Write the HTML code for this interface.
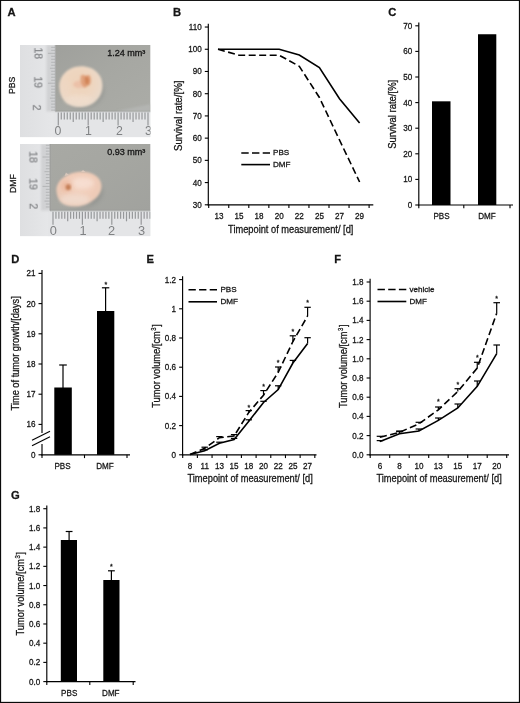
<!DOCTYPE html>
<html lang="en"><head><meta charset="utf-8"><title>Figure</title>
<style>
html,body{margin:0;padding:0;background:#fff;}
body{width:520px;height:703px;overflow:hidden;}
svg{display:block;}
text{font-family:"Liberation Sans", sans-serif;fill:#151515;stroke:#151515;stroke-width:0.28px;}
</style></head><body>
<svg width="520" height="703" viewBox="0 0 520 703">
<rect x="0" y="0" width="520" height="703" fill="#fff"/>

<defs>
<filter id="b1" x="-20%" y="-20%" width="140%" height="140%"><feGaussianBlur stdDeviation="1.2"/></filter>
<filter id="b2" x="-30%" y="-30%" width="160%" height="160%"><feGaussianBlur stdDeviation="2.2"/></filter>
<filter id="b05" x="-10%" y="-10%" width="120%" height="120%"><feGaussianBlur stdDeviation="0.5"/></filter>
<linearGradient id="gbg1" x1="0" y1="0" x2="1" y2="1">
<stop offset="0" stop-color="#9fa09c"/><stop offset="0.45" stop-color="#a6a7a2"/><stop offset="1" stop-color="#abaca7"/></linearGradient>
<linearGradient id="gbg2" x1="0" y1="0" x2="1" y2="1">
<stop offset="0" stop-color="#a8a9a4"/><stop offset="0.5" stop-color="#a5a6a1"/><stop offset="1" stop-color="#a1a29e"/></linearGradient>
<linearGradient id="rul" x1="0" y1="0" x2="1" y2="0">
<stop offset="0" stop-color="#dedfe1"/><stop offset="1" stop-color="#e6e7e9"/></linearGradient>
<radialGradient id="t1" cx="0.45" cy="0.4" r="0.6">
<stop offset="0" stop-color="#efd2ba"/><stop offset="0.55" stop-color="#eed6c0"/><stop offset="0.85" stop-color="#ebd9c8"/><stop offset="1" stop-color="#e6d8ca"/></radialGradient>
<radialGradient id="t2" cx="0.5" cy="0.4" r="0.6">
<stop offset="0" stop-color="#f3d4c3"/><stop offset="0.6" stop-color="#f0ccb8"/><stop offset="1" stop-color="#e7c8b5"/></radialGradient>
<clipPath id="c1"><rect x="20" y="45" width="130.5" height="92.3"/></clipPath>
<clipPath id="c2"><rect x="20" y="144" width="130.5" height="92.3"/></clipPath>
</defs>
<rect x="0" y="0" width="1.12" height="703" fill="#0a0a0a"/><rect x="0" y="0" width="520" height="0.95" fill="#0a0a0a"/><rect x="518.88" y="0" width="1.12" height="703" fill="#0a0a0a"/><rect x="0" y="701.85" width="520" height="1.15" fill="#0a0a0a"/>
<text x="7.5" y="15.6" font-size="11.2" text-anchor="start" font-weight="bold" fill="#000">A</text>
<text x="173" y="15.6" font-size="11.2" text-anchor="start" font-weight="bold" fill="#000">B</text>
<text x="388.2" y="15.7" font-size="11.2" text-anchor="start" font-weight="bold" fill="#000">C</text>
<text x="11.3" y="262.9" font-size="11.2" text-anchor="start" font-weight="bold" fill="#000">D</text>
<text x="146.5" y="262.9" font-size="11.2" text-anchor="start" font-weight="bold" fill="#000">E</text>
<text x="334.2" y="262.9" font-size="11.2" text-anchor="start" font-weight="bold" fill="#000">F</text>
<text x="11" y="498.6" font-size="11.2" text-anchor="start" font-weight="bold" fill="#000">G</text>
<g clip-path="url(#c1)">
<rect x="20" y="45" width="130.5" height="92.3" fill="#e2e3e5"/>
<rect x="55.4" y="45" width="95.1" height="66.4" fill="url(#gbg1)"/>
<rect x="20" y="45" width="35.4" height="92.3" fill="url(#rul)"/>
<rect x="53.4" y="111.4" width="97.1" height="25.900000000000006" fill="#e4e5e7"/>
<rect x="54.6" y="45" width="1.6" height="66.4" fill="#8f918e" opacity="0.55" filter="url(#b05)"/>
<rect x="55.4" y="110.60000000000001" width="95.1" height="1.6" fill="#8f918e" opacity="0.5" filter="url(#b05)"/>
<rect x="46.4" y="45" width="9" height="66.4" fill="#b9babc" opacity="0.45" filter="url(#b1)"/>
<g stroke="#9a9c9d" stroke-width="0.9" opacity="0.6" filter="url(#b05)"><line x1="51.2" y1="41.34" x2="55.1" y2="41.34"/><line x1="51.2" y1="44.33" x2="55.1" y2="44.33"/><line x1="51.2" y1="47.32" x2="55.1" y2="47.32"/><line x1="51.2" y1="50.31" x2="55.1" y2="50.31"/><line x1="47.9" y1="53.3" x2="55.1" y2="53.3"/><line x1="51.2" y1="56.29" x2="55.1" y2="56.29"/><line x1="51.2" y1="59.28" x2="55.1" y2="59.28"/><line x1="51.2" y1="62.27" x2="55.1" y2="62.27"/><line x1="51.2" y1="65.26" x2="55.1" y2="65.26"/><line x1="49.9" y1="68.25" x2="55.1" y2="68.25"/><line x1="51.2" y1="71.24" x2="55.1" y2="71.24"/><line x1="51.2" y1="74.23" x2="55.1" y2="74.23"/><line x1="51.2" y1="77.22" x2="55.1" y2="77.22"/><line x1="51.2" y1="80.21" x2="55.1" y2="80.21"/><line x1="47.9" y1="83.2" x2="55.1" y2="83.2"/><line x1="51.2" y1="86.19" x2="55.1" y2="86.19"/><line x1="51.2" y1="89.18" x2="55.1" y2="89.18"/><line x1="51.2" y1="92.17" x2="55.1" y2="92.17"/><line x1="51.2" y1="95.16" x2="55.1" y2="95.16"/><line x1="49.9" y1="98.15" x2="55.1" y2="98.15"/><line x1="51.2" y1="101.14" x2="55.1" y2="101.14"/><line x1="51.2" y1="104.13" x2="55.1" y2="104.13"/><line x1="51.2" y1="107.12" x2="55.1" y2="107.12"/><line x1="51.2" y1="110.11" x2="55.1" y2="110.11"/></g>
<g stroke="#76787a" stroke-width="1.2" opacity="0.7" filter="url(#b05)"><line x1="58.3" y1="112.60000000000001" x2="58.3" y2="125.6"/><line x1="61.29" y1="112.60000000000001" x2="61.29" y2="119.6"/><line x1="64.28" y1="112.60000000000001" x2="64.28" y2="119.6"/><line x1="67.27" y1="112.60000000000001" x2="67.27" y2="119.6"/><line x1="70.26" y1="112.60000000000001" x2="70.26" y2="119.6"/><line x1="73.25" y1="112.60000000000001" x2="73.25" y2="122.1"/><line x1="76.24" y1="112.60000000000001" x2="76.24" y2="119.6"/><line x1="79.23" y1="112.60000000000001" x2="79.23" y2="119.6"/><line x1="82.22" y1="112.60000000000001" x2="82.22" y2="119.6"/><line x1="85.21" y1="112.60000000000001" x2="85.21" y2="119.6"/><line x1="88.2" y1="112.60000000000001" x2="88.2" y2="125.6"/><line x1="91.19" y1="112.60000000000001" x2="91.19" y2="119.6"/><line x1="94.18" y1="112.60000000000001" x2="94.18" y2="119.6"/><line x1="97.17" y1="112.60000000000001" x2="97.17" y2="119.6"/><line x1="100.16" y1="112.60000000000001" x2="100.16" y2="119.6"/><line x1="103.15" y1="112.60000000000001" x2="103.15" y2="122.1"/><line x1="106.14" y1="112.60000000000001" x2="106.14" y2="119.6"/><line x1="109.13" y1="112.60000000000001" x2="109.13" y2="119.6"/><line x1="112.12" y1="112.60000000000001" x2="112.12" y2="119.6"/><line x1="115.11" y1="112.60000000000001" x2="115.11" y2="119.6"/><line x1="118.1" y1="112.60000000000001" x2="118.1" y2="125.6"/><line x1="121.09" y1="112.60000000000001" x2="121.09" y2="119.6"/><line x1="124.08" y1="112.60000000000001" x2="124.08" y2="119.6"/><line x1="127.07" y1="112.60000000000001" x2="127.07" y2="119.6"/><line x1="130.06" y1="112.60000000000001" x2="130.06" y2="119.6"/><line x1="133.05" y1="112.60000000000001" x2="133.05" y2="122.1"/><line x1="136.04" y1="112.60000000000001" x2="136.04" y2="119.6"/><line x1="139.03" y1="112.60000000000001" x2="139.03" y2="119.6"/><line x1="142.02" y1="112.60000000000001" x2="142.02" y2="119.6"/><line x1="145.01" y1="112.60000000000001" x2="145.01" y2="119.6"/><line x1="148.0" y1="112.60000000000001" x2="148.0" y2="125.6"/></g>
<text x="34.3" y="53.3" font-size="10.5" text-anchor="middle" transform="rotate(90 34.3 53.3)" style="fill:#85878a;stroke:#85878a;stroke-width:0.25px" filter="url(#b05)">18</text>
<text x="34.1" y="82.3" font-size="10.5" text-anchor="middle" transform="rotate(90 34.1 82.3)" style="fill:#85878a;stroke:#85878a;stroke-width:0.25px" filter="url(#b05)">19</text>
<text x="33.6" y="107.5" font-size="10.5" text-anchor="middle" transform="rotate(90 33.6 107.5)" style="fill:#85878a;stroke:#85878a;stroke-width:0.25px" filter="url(#b05)">2</text>
<text x="58" y="135.2" font-size="12.3" text-anchor="middle" style="fill:#808284;stroke:none" filter="url(#b05)">0</text>
<text x="88.3" y="135.2" font-size="12.3" text-anchor="middle" style="fill:#808284;stroke:none" filter="url(#b05)">1</text>
<text x="119.3" y="135.2" font-size="12.3" text-anchor="middle" style="fill:#808284;stroke:none" filter="url(#b05)">2</text>
<text x="148.3" y="135.2" font-size="12.3" text-anchor="middle" style="fill:#808284;stroke:none" filter="url(#b05)">3</text>

<ellipse cx="82" cy="90" rx="22" ry="18.5" fill="#80827f" opacity="0.4" filter="url(#b2)"/>
<path d="M59.5 88 C58.5 76 68 66.5 81 66.3 C94 66.2 102.8 75 102.6 86 C102.5 97 94 106 82 107 C76 107.6 68 105.5 64 100.5 C61 97 59.8 92 59.5 88Z" fill="url(#t1)" filter="url(#b1)"/>
<ellipse cx="79" cy="100" rx="14" ry="5" fill="#f1dfcf" opacity="0.7" filter="url(#b2)"/>
<ellipse cx="66" cy="88" rx="4.5" ry="9" fill="#eed7c4" opacity="0.6" filter="url(#b2)"/>
<ellipse cx="79" cy="84.5" rx="6" ry="3.5" fill="#eab39a" opacity="0.55" filter="url(#b1)"/>
<path d="M81 75.5 C83 74 85 75.5 86 76 C88 74 91 75.5 90.8 79 C91.5 82.5 90 86 87.5 85.8 C86 88.5 82.5 88 82.5 85 C80.5 83.5 80 79 81 75.5Z" fill="#db9066" opacity="0.75" filter="url(#b1)"/><path d="M85 77 C87 76 89 77.5 89 80 C89.5 83 88 85 86.5 84.5 C85 84 84.5 80 85 77Z" fill="#c8703f" opacity="0.6" filter="url(#b1)"/>

<path d="M114 111.4 L150.5 104 L150.5 111.4Z" fill="#b9bbba" opacity="0.6" filter="url(#b1)"/>

</g>
<g clip-path="url(#c2)">
<rect x="20" y="144" width="130.5" height="92.3" fill="#e2e3e5"/>
<rect x="50" y="144" width="100.5" height="66.6" fill="url(#gbg2)"/>
<rect x="20" y="144" width="30" height="92.3" fill="url(#rul)"/>
<rect x="48" y="210.6" width="102.5" height="25.700000000000017" fill="#e4e5e7"/>
<rect x="49.2" y="144" width="1.6" height="66.6" fill="#8f918e" opacity="0.55" filter="url(#b05)"/>
<rect x="50" y="209.79999999999998" width="100.5" height="1.6" fill="#8f918e" opacity="0.5" filter="url(#b05)"/>
<rect x="41" y="144" width="9" height="66.6" fill="#b9babc" opacity="0.45" filter="url(#b1)"/>
<g stroke="#9a9c9d" stroke-width="0.9" opacity="0.6" filter="url(#b05)"><line x1="45.8" y1="145.24" x2="49.7" y2="145.24"/><line x1="45.8" y1="148.18" x2="49.7" y2="148.18"/><line x1="45.8" y1="151.12" x2="49.7" y2="151.12"/><line x1="45.8" y1="154.06" x2="49.7" y2="154.06"/><line x1="42.5" y1="157.0" x2="49.7" y2="157.0"/><line x1="45.8" y1="159.94" x2="49.7" y2="159.94"/><line x1="45.8" y1="162.88" x2="49.7" y2="162.88"/><line x1="45.8" y1="165.82" x2="49.7" y2="165.82"/><line x1="45.8" y1="168.76" x2="49.7" y2="168.76"/><line x1="44.5" y1="171.7" x2="49.7" y2="171.7"/><line x1="45.8" y1="174.64" x2="49.7" y2="174.64"/><line x1="45.8" y1="177.58" x2="49.7" y2="177.58"/><line x1="45.8" y1="180.52" x2="49.7" y2="180.52"/><line x1="45.8" y1="183.46" x2="49.7" y2="183.46"/><line x1="42.5" y1="186.4" x2="49.7" y2="186.4"/><line x1="45.8" y1="189.34" x2="49.7" y2="189.34"/><line x1="45.8" y1="192.28" x2="49.7" y2="192.28"/><line x1="45.8" y1="195.22" x2="49.7" y2="195.22"/><line x1="45.8" y1="198.16" x2="49.7" y2="198.16"/><line x1="44.5" y1="201.1" x2="49.7" y2="201.1"/><line x1="45.8" y1="204.04" x2="49.7" y2="204.04"/><line x1="45.8" y1="206.98" x2="49.7" y2="206.98"/></g>
<g stroke="#76787a" stroke-width="1.2" opacity="0.7" filter="url(#b05)"><line x1="53" y1="211.79999999999998" x2="53" y2="224.8"/><line x1="55.94" y1="211.79999999999998" x2="55.94" y2="218.8"/><line x1="58.88" y1="211.79999999999998" x2="58.88" y2="218.8"/><line x1="61.82" y1="211.79999999999998" x2="61.82" y2="218.8"/><line x1="64.76" y1="211.79999999999998" x2="64.76" y2="218.8"/><line x1="67.7" y1="211.79999999999998" x2="67.7" y2="221.3"/><line x1="70.64" y1="211.79999999999998" x2="70.64" y2="218.8"/><line x1="73.58" y1="211.79999999999998" x2="73.58" y2="218.8"/><line x1="76.52" y1="211.79999999999998" x2="76.52" y2="218.8"/><line x1="79.46" y1="211.79999999999998" x2="79.46" y2="218.8"/><line x1="82.4" y1="211.79999999999998" x2="82.4" y2="224.8"/><line x1="85.34" y1="211.79999999999998" x2="85.34" y2="218.8"/><line x1="88.28" y1="211.79999999999998" x2="88.28" y2="218.8"/><line x1="91.22" y1="211.79999999999998" x2="91.22" y2="218.8"/><line x1="94.16" y1="211.79999999999998" x2="94.16" y2="218.8"/><line x1="97.1" y1="211.79999999999998" x2="97.1" y2="221.3"/><line x1="100.04" y1="211.79999999999998" x2="100.04" y2="218.8"/><line x1="102.98" y1="211.79999999999998" x2="102.98" y2="218.8"/><line x1="105.92" y1="211.79999999999998" x2="105.92" y2="218.8"/><line x1="108.86" y1="211.79999999999998" x2="108.86" y2="218.8"/><line x1="111.8" y1="211.79999999999998" x2="111.8" y2="224.8"/><line x1="114.74" y1="211.79999999999998" x2="114.74" y2="218.8"/><line x1="117.68" y1="211.79999999999998" x2="117.68" y2="218.8"/><line x1="120.62" y1="211.79999999999998" x2="120.62" y2="218.8"/><line x1="123.56" y1="211.79999999999998" x2="123.56" y2="218.8"/><line x1="126.5" y1="211.79999999999998" x2="126.5" y2="221.3"/><line x1="129.44" y1="211.79999999999998" x2="129.44" y2="218.8"/><line x1="132.38" y1="211.79999999999998" x2="132.38" y2="218.8"/><line x1="135.32" y1="211.79999999999998" x2="135.32" y2="218.8"/><line x1="138.26" y1="211.79999999999998" x2="138.26" y2="218.8"/><line x1="141.2" y1="211.79999999999998" x2="141.2" y2="224.8"/><line x1="144.14" y1="211.79999999999998" x2="144.14" y2="218.8"/><line x1="147.08" y1="211.79999999999998" x2="147.08" y2="218.8"/><line x1="150.02" y1="211.79999999999998" x2="150.02" y2="218.8"/></g>
<text x="29.5" y="157" font-size="10.5" text-anchor="middle" transform="rotate(90 29.5 157)" style="fill:#85878a;stroke:#85878a;stroke-width:0.25px" filter="url(#b05)">18</text>
<text x="29.5" y="184" font-size="10.5" text-anchor="middle" transform="rotate(90 29.5 184)" style="fill:#85878a;stroke:#85878a;stroke-width:0.25px" filter="url(#b05)">19</text>
<text x="29.5" y="206.3" font-size="10.5" text-anchor="middle" transform="rotate(90 29.5 206.3)" style="fill:#85878a;stroke:#85878a;stroke-width:0.25px" filter="url(#b05)">2</text>
<text x="53.3" y="234.5" font-size="12.8" text-anchor="middle" style="fill:#808284;stroke:none" filter="url(#b05)">0</text>
<text x="83" y="234.5" font-size="12.8" text-anchor="middle" style="fill:#808284;stroke:none" filter="url(#b05)">1</text>
<text x="111.5" y="234.5" font-size="12.8" text-anchor="middle" style="fill:#808284;stroke:none" filter="url(#b05)">2</text>
<text x="141.5" y="234.5" font-size="12.8" text-anchor="middle" style="fill:#808284;stroke:none" filter="url(#b05)">3</text>

<ellipse cx="80" cy="192" rx="23" ry="16" fill="#80827f" opacity="0.4" filter="url(#b2)"/>
<path d="M56.3 191 C56 181 66 173 80 171.8 C92 171 101.5 177 101.6 186 C101.7 194 95 201 85 204.5 C76 207.6 66 207 60.5 201.5 C57.8 198.8 56.5 195 56.3 191Z" fill="url(#t2)" filter="url(#b1)"/>
<ellipse cx="83" cy="183" rx="11" ry="5.5" fill="#f8e1d5" opacity="0.8" filter="url(#b2)"/>
<ellipse cx="75" cy="199.5" rx="15" ry="5.5" fill="#f1dccf" opacity="0.85" filter="url(#b2)"/>
<ellipse cx="66.5" cy="186" rx="5.5" ry="5.5" fill="#e8a888" opacity="0.5" filter="url(#b2)"/>
<ellipse cx="68.3" cy="187.2" rx="2.6" ry="2.9" fill="#c07850" opacity="0.9" filter="url(#b1)"/>
<path d="M64.5 176 L66 172.5 L69 175Z M81 172 L83 170 L85.5 172Z" fill="#e8d2c4" opacity="0.7" filter="url(#b05)"/>

</g>
<text x="15.2" y="85.3" font-size="8.7" text-anchor="middle" transform="rotate(-90 15.2 85.3)">PBS</text>
<text x="15.5" y="183.5" font-size="8.7" text-anchor="middle" transform="rotate(-90 15.5 183.5)">DMF</text>

<text x="107.2" y="56" font-size="8.5" text-anchor="start" textLength="38.2" lengthAdjust="spacingAndGlyphs">1.24 mm³</text>
<text x="107.2" y="155.3" font-size="8.5" text-anchor="start" textLength="38.2" lengthAdjust="spacingAndGlyphs">0.93 mm³</text>
<line x1="208.3" y1="23.74" x2="208.3" y2="205.4" stroke="#000" stroke-width="1.15"/>
<line x1="204.8" y1="204.8" x2="208.3" y2="204.8" stroke="#000" stroke-width="1.1"/>
<text x="0" y="0" font-size="9.0" text-anchor="end" transform="translate(201.70000000000002 207.75) scale(0.9 1)">30</text>
<line x1="204.8" y1="182.58" x2="208.3" y2="182.58" stroke="#000" stroke-width="1.1"/>
<text x="0" y="0" font-size="9.0" text-anchor="end" transform="translate(201.70000000000002 185.53) scale(0.9 1)">40</text>
<line x1="204.8" y1="160.36" x2="208.3" y2="160.36" stroke="#000" stroke-width="1.1"/>
<text x="0" y="0" font-size="9.0" text-anchor="end" transform="translate(201.70000000000002 163.31) scale(0.9 1)">50</text>
<line x1="204.8" y1="138.14" x2="208.3" y2="138.14" stroke="#000" stroke-width="1.1"/>
<text x="0" y="0" font-size="9.0" text-anchor="end" transform="translate(201.70000000000002 141.09) scale(0.9 1)">60</text>
<line x1="204.8" y1="115.92" x2="208.3" y2="115.92" stroke="#000" stroke-width="1.1"/>
<text x="0" y="0" font-size="9.0" text-anchor="end" transform="translate(201.70000000000002 118.87) scale(0.9 1)">70</text>
<line x1="204.8" y1="93.7" x2="208.3" y2="93.7" stroke="#000" stroke-width="1.1"/>
<text x="0" y="0" font-size="9.0" text-anchor="end" transform="translate(201.70000000000002 96.65) scale(0.9 1)">80</text>
<line x1="204.8" y1="71.48" x2="208.3" y2="71.48" stroke="#000" stroke-width="1.1"/>
<text x="0" y="0" font-size="9.0" text-anchor="end" transform="translate(201.70000000000002 74.43) scale(0.9 1)">90</text>
<line x1="204.8" y1="49.26" x2="208.3" y2="49.26" stroke="#000" stroke-width="1.1"/>
<text x="0" y="0" font-size="9.0" text-anchor="end" transform="translate(201.70000000000002 52.21) scale(0.9 1)">100</text>
<line x1="204.8" y1="27.04" x2="208.3" y2="27.04" stroke="#000" stroke-width="1.1"/>
<text x="0" y="0" font-size="9.0" text-anchor="end" transform="translate(201.70000000000002 29.99) scale(0.9 1)">110</text>
<line x1="207.70000000000002" y1="204.8" x2="373.3" y2="204.8" stroke="#000" stroke-width="1.15"/>
<line x1="208.7" y1="204.8" x2="208.7" y2="208.10000000000002" stroke="#000" stroke-width="1.1"/>
<line x1="228.75" y1="204.8" x2="228.75" y2="208.10000000000002" stroke="#000" stroke-width="1.1"/>
<line x1="248.8" y1="204.8" x2="248.8" y2="208.10000000000002" stroke="#000" stroke-width="1.1"/>
<line x1="268.85" y1="204.8" x2="268.85" y2="208.10000000000002" stroke="#000" stroke-width="1.1"/>
<line x1="288.9" y1="204.8" x2="288.9" y2="208.10000000000002" stroke="#000" stroke-width="1.1"/>
<line x1="308.95" y1="204.8" x2="308.95" y2="208.10000000000002" stroke="#000" stroke-width="1.1"/>
<line x1="329.0" y1="204.8" x2="329.0" y2="208.10000000000002" stroke="#000" stroke-width="1.1"/>
<line x1="349.05" y1="204.8" x2="349.05" y2="208.10000000000002" stroke="#000" stroke-width="1.1"/>
<line x1="369.1" y1="204.8" x2="369.1" y2="208.10000000000002" stroke="#000" stroke-width="1.1"/>
<text x="0" y="0" font-size="9.0" text-anchor="middle" transform="translate(218.9 219.3) scale(0.9 1)">13</text>
<text x="0" y="0" font-size="9.0" text-anchor="middle" transform="translate(239.0 219.3) scale(0.9 1)">15</text>
<text x="0" y="0" font-size="9.0" text-anchor="middle" transform="translate(259.1 219.3) scale(0.9 1)">18</text>
<text x="0" y="0" font-size="9.0" text-anchor="middle" transform="translate(279.2 219.3) scale(0.9 1)">20</text>
<text x="0" y="0" font-size="9.0" text-anchor="middle" transform="translate(299.3 219.3) scale(0.9 1)">22</text>
<text x="0" y="0" font-size="9.0" text-anchor="middle" transform="translate(319.4 219.3) scale(0.9 1)">25</text>
<text x="0" y="0" font-size="9.0" text-anchor="middle" transform="translate(339.5 219.3) scale(0.9 1)">27</text>
<text x="0" y="0" font-size="9.0" text-anchor="middle" transform="translate(359.6 219.3) scale(0.9 1)">29</text>
<text x="181.9" y="115.8" font-size="10.2" text-anchor="middle" transform="rotate(-90 181.9 115.8)" textLength="70.5" lengthAdjust="spacingAndGlyphs">Survival rate/[%]</text>
<text x="228.1" y="233" font-size="10.4" text-anchor="start" textLength="125.3" lengthAdjust="spacingAndGlyphs">Timepoint of measurement/ [d]</text>
<polyline points="218.0,49.3 279.2,49.3 299.3,55 319.4,67.5 339.5,98.8 359.6,123" fill="none" stroke="#000" stroke-width="1.6" stroke-linejoin="miter"/>
<polyline points="218.0,49.3 239.0,55.2 279.2,55.2 299.3,66.3 319.4,97.5 339.5,140 359.6,182" fill="none" stroke="#000" stroke-width="1.6" stroke-linejoin="miter" stroke-dasharray="7 3.5"/>
<polyline points="241.3,153 270,153" fill="none" stroke="#000" stroke-width="1.6" stroke-linejoin="miter" stroke-dasharray="7.4 3.3"/>
<polyline points="241.3,164.6 270,164.6" fill="none" stroke="#000" stroke-width="1.6" stroke-linejoin="miter"/>
<text x="273" y="155.2" font-size="8.1" text-anchor="start">PBS</text>
<text x="273" y="167.1" font-size="8.1" text-anchor="start">DMF</text>
<line x1="418.8" y1="22.5" x2="418.8" y2="205.6" stroke="#000" stroke-width="1.15"/>
<line x1="415.3" y1="205.0" x2="418.8" y2="205.0" stroke="#000" stroke-width="1.1"/>
<text x="0" y="0" font-size="9.0" text-anchor="end" transform="translate(412.2 207.95) scale(0.9 1)">0</text>
<line x1="415.3" y1="179.4" x2="418.8" y2="179.4" stroke="#000" stroke-width="1.1"/>
<text x="0" y="0" font-size="9.0" text-anchor="end" transform="translate(412.2 182.35) scale(0.9 1)">10</text>
<line x1="415.3" y1="153.8" x2="418.8" y2="153.8" stroke="#000" stroke-width="1.1"/>
<text x="0" y="0" font-size="9.0" text-anchor="end" transform="translate(412.2 156.75) scale(0.9 1)">20</text>
<line x1="415.3" y1="128.2" x2="418.8" y2="128.2" stroke="#000" stroke-width="1.1"/>
<text x="0" y="0" font-size="9.0" text-anchor="end" transform="translate(412.2 131.15) scale(0.9 1)">30</text>
<line x1="415.3" y1="102.6" x2="418.8" y2="102.6" stroke="#000" stroke-width="1.1"/>
<text x="0" y="0" font-size="9.0" text-anchor="end" transform="translate(412.2 105.55) scale(0.9 1)">40</text>
<line x1="415.3" y1="77.0" x2="418.8" y2="77.0" stroke="#000" stroke-width="1.1"/>
<text x="0" y="0" font-size="9.0" text-anchor="end" transform="translate(412.2 79.95) scale(0.9 1)">50</text>
<line x1="415.3" y1="51.4" x2="418.8" y2="51.4" stroke="#000" stroke-width="1.1"/>
<text x="0" y="0" font-size="9.0" text-anchor="end" transform="translate(412.2 54.35) scale(0.9 1)">60</text>
<line x1="415.3" y1="25.8" x2="418.8" y2="25.8" stroke="#000" stroke-width="1.1"/>
<text x="0" y="0" font-size="9.0" text-anchor="end" transform="translate(412.2 28.75) scale(0.9 1)">70</text>
<line x1="418.2" y1="205" x2="513" y2="205" stroke="#000" stroke-width="1.15"/>
<line x1="418.8" y1="205" x2="418.8" y2="208.3" stroke="#000" stroke-width="1.1"/>
<line x1="463.8" y1="205" x2="463.8" y2="208.3" stroke="#000" stroke-width="1.1"/>
<line x1="510" y1="205" x2="510" y2="208.3" stroke="#000" stroke-width="1.1"/>
<text x="0" y="0" font-size="9.0" text-anchor="middle" transform="translate(441.5 219.3) scale(0.9 1)">PBS</text>
<text x="0" y="0" font-size="9.0" text-anchor="middle" transform="translate(487 219.3) scale(0.9 1)">DMF</text>
<rect x="432" y="101.32" width="18.5" height="103.68" fill="#000"/>
<rect x="478" y="34.25" width="18.3" height="170.75" fill="#000"/>
<text x="396.4" y="114.3" font-size="10.2" text-anchor="middle" transform="rotate(-90 396.4 114.3)" textLength="69" lengthAdjust="spacingAndGlyphs">Survival rate/[%]</text>
<line x1="42" y1="270.09999999999997" x2="42" y2="455.40000000000003" stroke="#000" stroke-width="1.15"/>
<line x1="38.5" y1="424.4" x2="42" y2="424.4" stroke="#000" stroke-width="1.1"/>
<text x="0" y="0" font-size="9.0" text-anchor="end" transform="translate(35.4 427.35) scale(0.9 1)">16</text>
<line x1="38.5" y1="394.2" x2="42" y2="394.2" stroke="#000" stroke-width="1.1"/>
<text x="0" y="0" font-size="9.0" text-anchor="end" transform="translate(35.4 397.15) scale(0.9 1)">17</text>
<line x1="38.5" y1="364.0" x2="42" y2="364.0" stroke="#000" stroke-width="1.1"/>
<text x="0" y="0" font-size="9.0" text-anchor="end" transform="translate(35.4 366.95) scale(0.9 1)">18</text>
<line x1="38.5" y1="333.8" x2="42" y2="333.8" stroke="#000" stroke-width="1.1"/>
<text x="0" y="0" font-size="9.0" text-anchor="end" transform="translate(35.4 336.75) scale(0.9 1)">19</text>
<line x1="38.5" y1="303.6" x2="42" y2="303.6" stroke="#000" stroke-width="1.1"/>
<text x="0" y="0" font-size="9.0" text-anchor="end" transform="translate(35.4 306.55) scale(0.9 1)">20</text>
<line x1="38.5" y1="273.4" x2="42" y2="273.4" stroke="#000" stroke-width="1.1"/>
<text x="0" y="0" font-size="9.0" text-anchor="end" transform="translate(35.4 276.35) scale(0.9 1)">21</text>
<line x1="38.5" y1="454.8" x2="42" y2="454.8" stroke="#000" stroke-width="1.1"/>
<text x="0" y="0" font-size="9.0" text-anchor="end" transform="translate(35.4 457.75) scale(0.9 1)">0</text>
<line x1="41.4" y1="454.8" x2="130" y2="454.8" stroke="#000" stroke-width="1.15"/>
<line x1="42" y1="454.8" x2="42" y2="458.1" stroke="#000" stroke-width="1.1"/>
<line x1="84.5" y1="454.8" x2="84.5" y2="458.1" stroke="#000" stroke-width="1.1"/>
<line x1="127" y1="454.8" x2="127" y2="458.1" stroke="#000" stroke-width="1.1"/>
<text x="0" y="0" font-size="9.0" text-anchor="middle" transform="translate(62.5 469.3) scale(0.9 1)">PBS</text>
<text x="0" y="0" font-size="9.0" text-anchor="middle" transform="translate(105 469.3) scale(0.9 1)">DMF</text>
<rect x="54.3" y="387.5" width="17.5" height="67.30000000000001" fill="#000"/>
<rect x="97" y="311" width="17.3" height="143.8" fill="#000"/>
<line x1="63" y1="388" x2="63" y2="365" stroke="#000" stroke-width="1.2"/>
<line x1="59.2" y1="365" x2="66.8" y2="365" stroke="#000" stroke-width="1.2"/>
<line x1="105.6" y1="312" x2="105.6" y2="287.8" stroke="#000" stroke-width="1.2"/>
<line x1="101.89999999999999" y1="287.8" x2="109.3" y2="287.8" stroke="#000" stroke-width="1.2"/>
<text x="105.8" y="286.5" font-size="7" text-anchor="middle">*</text>
<rect x="38" y="433" width="8" height="11" fill="#fff"/>
<line x1="32" y1="440.2" x2="50" y2="431.3" stroke="#000" stroke-width="1.2"/>
<line x1="32" y1="445.7" x2="50" y2="436.8" stroke="#000" stroke-width="1.2"/>
<text x="19.4" y="353.3" font-size="10" text-anchor="middle" transform="rotate(-90 19.4 353.3)" textLength="114.2" lengthAdjust="spacingAndGlyphs">Time of tumor growth/[days]</text>
<line x1="182.6" y1="276.3" x2="182.6" y2="455.40000000000003" stroke="#000" stroke-width="1.15"/>
<line x1="179.1" y1="454.8" x2="182.6" y2="454.8" stroke="#000" stroke-width="1.1"/>
<text x="0" y="0" font-size="9.0" text-anchor="end" transform="translate(176.0 457.75) scale(0.9 1)">0</text>
<line x1="179.1" y1="425.6" x2="182.6" y2="425.6" stroke="#000" stroke-width="1.1"/>
<text x="0" y="0" font-size="9.0" text-anchor="end" transform="translate(176.0 428.55) scale(0.9 1)">0.2</text>
<line x1="179.1" y1="396.4" x2="182.6" y2="396.4" stroke="#000" stroke-width="1.1"/>
<text x="0" y="0" font-size="9.0" text-anchor="end" transform="translate(176.0 399.35) scale(0.9 1)">0.4</text>
<line x1="179.1" y1="367.2" x2="182.6" y2="367.2" stroke="#000" stroke-width="1.1"/>
<text x="0" y="0" font-size="9.0" text-anchor="end" transform="translate(176.0 370.15) scale(0.9 1)">0.6</text>
<line x1="179.1" y1="338.0" x2="182.6" y2="338.0" stroke="#000" stroke-width="1.1"/>
<text x="0" y="0" font-size="9.0" text-anchor="end" transform="translate(176.0 340.95) scale(0.9 1)">0.8</text>
<line x1="179.1" y1="308.8" x2="182.6" y2="308.8" stroke="#000" stroke-width="1.1"/>
<text x="0" y="0" font-size="9.0" text-anchor="end" transform="translate(176.0 311.75) scale(0.9 1)">1</text>
<line x1="179.1" y1="279.6" x2="182.6" y2="279.6" stroke="#000" stroke-width="1.1"/>
<text x="0" y="0" font-size="9.0" text-anchor="end" transform="translate(176.0 282.55) scale(0.9 1)">1.2</text>
<line x1="182.0" y1="454.8" x2="316.5" y2="454.8" stroke="#000" stroke-width="1.15"/>
<line x1="182.7" y1="454.8" x2="182.7" y2="458.1" stroke="#000" stroke-width="1.1"/>
<line x1="197.38" y1="454.8" x2="197.38" y2="458.1" stroke="#000" stroke-width="1.1"/>
<line x1="212.06" y1="454.8" x2="212.06" y2="458.1" stroke="#000" stroke-width="1.1"/>
<line x1="226.74" y1="454.8" x2="226.74" y2="458.1" stroke="#000" stroke-width="1.1"/>
<line x1="241.42" y1="454.8" x2="241.42" y2="458.1" stroke="#000" stroke-width="1.1"/>
<line x1="256.1" y1="454.8" x2="256.1" y2="458.1" stroke="#000" stroke-width="1.1"/>
<line x1="270.78" y1="454.8" x2="270.78" y2="458.1" stroke="#000" stroke-width="1.1"/>
<line x1="285.46" y1="454.8" x2="285.46" y2="458.1" stroke="#000" stroke-width="1.1"/>
<line x1="300.14" y1="454.8" x2="300.14" y2="458.1" stroke="#000" stroke-width="1.1"/>
<line x1="314.82" y1="454.8" x2="314.82" y2="458.1" stroke="#000" stroke-width="1.1"/>
<text x="0" y="0" font-size="9.0" text-anchor="middle" transform="translate(190.0 468.6) scale(0.9 1)">8</text>
<text x="0" y="0" font-size="9.0" text-anchor="middle" transform="translate(204.7 468.6) scale(0.9 1)">11</text>
<text x="0" y="0" font-size="9.0" text-anchor="middle" transform="translate(219.4 468.6) scale(0.9 1)">13</text>
<text x="0" y="0" font-size="9.0" text-anchor="middle" transform="translate(234.1 468.6) scale(0.9 1)">15</text>
<text x="0" y="0" font-size="9.0" text-anchor="middle" transform="translate(248.8 468.6) scale(0.9 1)">18</text>
<text x="0" y="0" font-size="9.0" text-anchor="middle" transform="translate(263.5 468.6) scale(0.9 1)">20</text>
<text x="0" y="0" font-size="9.0" text-anchor="middle" transform="translate(278.2 468.6) scale(0.9 1)">22</text>
<text x="0" y="0" font-size="9.0" text-anchor="middle" transform="translate(292.9 468.6) scale(0.9 1)">25</text>
<text x="0" y="0" font-size="9.0" text-anchor="middle" transform="translate(307.6 468.6) scale(0.9 1)">27</text>
<text x="187.5" y="482.2" font-size="10.4" text-anchor="start" textLength="125.3" lengthAdjust="spacingAndGlyphs">Timepoint of measurement/ [d]</text>
<text x="159.6" y="407.7" font-size="10" text-anchor="start" transform="rotate(-90 159.6 407.7)" textLength="76.5" lengthAdjust="spacingAndGlyphs">Tumor volume/[cm</text>
<text x="155.9" y="330.8" font-size="7.2" text-anchor="start" transform="rotate(-90 155.9 330.8)" textLength="3.3" lengthAdjust="spacingAndGlyphs">3</text>
<text x="159.6" y="326.8" font-size="10" text-anchor="start" transform="rotate(-90 159.6 326.8)" textLength="2.4" lengthAdjust="spacingAndGlyphs">]</text>
<polyline points="190.0,454.6 204.7,450.8 219.4,443.3 234.1,439.5 248.8,421.2 263.5,402.5 278.2,389.6 292.9,363 307.6,343.6" fill="none" stroke="#000" stroke-width="1.6" stroke-linejoin="miter"/>
<polyline points="190.0,454.6 204.7,448.3 219.4,437.7 234.1,436 248.8,412.4 263.5,395.2 278.2,372.3 292.9,341.5 307.6,316" fill="none" stroke="#000" stroke-width="1.6" stroke-linejoin="miter" stroke-dasharray="7 3.5"/>
<line x1="204.7" y1="448.3" x2="204.7" y2="447.2" stroke="#000" stroke-width="1.2"/>
<line x1="201.5" y1="447.2" x2="207.89999999999998" y2="447.2" stroke="#000" stroke-width="1.2"/>
<line x1="204.7" y1="450.8" x2="204.7" y2="449.8" stroke="#000" stroke-width="1.2"/>
<line x1="201.5" y1="449.8" x2="207.89999999999998" y2="449.8" stroke="#000" stroke-width="1.2"/>
<line x1="219.4" y1="437.7" x2="219.4" y2="436.6" stroke="#000" stroke-width="1.2"/>
<line x1="216.20000000000002" y1="436.6" x2="222.6" y2="436.6" stroke="#000" stroke-width="1.2"/>
<line x1="219.4" y1="443.3" x2="219.4" y2="442.2" stroke="#000" stroke-width="1.2"/>
<line x1="216.20000000000002" y1="442.2" x2="222.6" y2="442.2" stroke="#000" stroke-width="1.2"/>
<line x1="234.1" y1="436" x2="234.1" y2="434.6" stroke="#000" stroke-width="1.2"/>
<line x1="230.9" y1="434.6" x2="237.29999999999998" y2="434.6" stroke="#000" stroke-width="1.2"/>
<line x1="234.1" y1="439.5" x2="234.1" y2="438.4" stroke="#000" stroke-width="1.2"/>
<line x1="230.9" y1="438.4" x2="237.29999999999998" y2="438.4" stroke="#000" stroke-width="1.2"/>
<line x1="248.8" y1="412.4" x2="248.8" y2="410.6" stroke="#000" stroke-width="1.2"/>
<line x1="245.60000000000002" y1="410.6" x2="252.0" y2="410.6" stroke="#000" stroke-width="1.2"/>
<line x1="248.8" y1="421.2" x2="248.8" y2="419.8" stroke="#000" stroke-width="1.2"/>
<line x1="245.60000000000002" y1="419.8" x2="252.0" y2="419.8" stroke="#000" stroke-width="1.2"/>
<text x="248.8" y="409.59999999999997" font-size="7" text-anchor="middle">*</text>
<line x1="263.5" y1="395.2" x2="263.5" y2="390.6" stroke="#000" stroke-width="1.2"/>
<line x1="260.3" y1="390.6" x2="266.7" y2="390.6" stroke="#000" stroke-width="1.2"/>
<line x1="263.5" y1="402.5" x2="263.5" y2="401.3" stroke="#000" stroke-width="1.2"/>
<line x1="260.3" y1="401.3" x2="266.7" y2="401.3" stroke="#000" stroke-width="1.2"/>
<text x="263.5" y="389.0" font-size="7" text-anchor="middle">*</text>
<line x1="278.2" y1="372.3" x2="278.2" y2="367" stroke="#000" stroke-width="1.2"/>
<line x1="275.0" y1="367" x2="281.4" y2="367" stroke="#000" stroke-width="1.2"/>
<line x1="278.2" y1="389.6" x2="278.2" y2="385.8" stroke="#000" stroke-width="1.2"/>
<line x1="275.0" y1="385.8" x2="281.4" y2="385.8" stroke="#000" stroke-width="1.2"/>
<text x="278.2" y="364.59999999999997" font-size="7" text-anchor="middle">*</text>
<line x1="292.9" y1="341.5" x2="292.9" y2="335.8" stroke="#000" stroke-width="1.2"/>
<line x1="289.7" y1="335.8" x2="296.09999999999997" y2="335.8" stroke="#000" stroke-width="1.2"/>
<line x1="292.9" y1="363" x2="292.9" y2="360.4" stroke="#000" stroke-width="1.2"/>
<line x1="289.7" y1="360.4" x2="296.09999999999997" y2="360.4" stroke="#000" stroke-width="1.2"/>
<text x="292.9" y="333.8" font-size="7" text-anchor="middle">*</text>
<line x1="307.6" y1="316" x2="307.6" y2="307.3" stroke="#000" stroke-width="1.2"/>
<line x1="304.40000000000003" y1="307.3" x2="310.8" y2="307.3" stroke="#000" stroke-width="1.2"/>
<line x1="307.6" y1="343.6" x2="307.6" y2="337.7" stroke="#000" stroke-width="1.2"/>
<line x1="304.40000000000003" y1="337.7" x2="310.8" y2="337.7" stroke="#000" stroke-width="1.2"/>
<text x="307.6" y="305.2" font-size="7" text-anchor="middle">*</text>
<polyline points="188.5,289.8 217,289.8" fill="none" stroke="#000" stroke-width="1.6" stroke-linejoin="miter" stroke-dasharray="7.3 3.3"/>
<polyline points="188.5,301.8 217,301.8" fill="none" stroke="#000" stroke-width="1.6" stroke-linejoin="miter"/>
<text x="220.4" y="292.3" font-size="8.1" text-anchor="start">PBS</text>
<text x="220.4" y="304.3" font-size="8.1" text-anchor="start">DMF</text>
<line x1="370.1" y1="278.7" x2="370.1" y2="455.40000000000003" stroke="#000" stroke-width="1.15"/>
<line x1="366.6" y1="454.8" x2="370.1" y2="454.8" stroke="#000" stroke-width="1.1"/>
<text x="0" y="0" font-size="9.0" text-anchor="end" transform="translate(363.5 457.75) scale(0.9 1)">0.0</text>
<line x1="366.6" y1="435.6" x2="370.1" y2="435.6" stroke="#000" stroke-width="1.1"/>
<text x="0" y="0" font-size="9.0" text-anchor="end" transform="translate(363.5 438.55) scale(0.9 1)">0.2</text>
<line x1="366.6" y1="416.4" x2="370.1" y2="416.4" stroke="#000" stroke-width="1.1"/>
<text x="0" y="0" font-size="9.0" text-anchor="end" transform="translate(363.5 419.35) scale(0.9 1)">0.4</text>
<line x1="366.6" y1="397.2" x2="370.1" y2="397.2" stroke="#000" stroke-width="1.1"/>
<text x="0" y="0" font-size="9.0" text-anchor="end" transform="translate(363.5 400.15) scale(0.9 1)">0.6</text>
<line x1="366.6" y1="378.0" x2="370.1" y2="378.0" stroke="#000" stroke-width="1.1"/>
<text x="0" y="0" font-size="9.0" text-anchor="end" transform="translate(363.5 380.95) scale(0.9 1)">0.8</text>
<line x1="366.6" y1="358.8" x2="370.1" y2="358.8" stroke="#000" stroke-width="1.1"/>
<text x="0" y="0" font-size="9.0" text-anchor="end" transform="translate(363.5 361.75) scale(0.9 1)">1.0</text>
<line x1="366.6" y1="339.6" x2="370.1" y2="339.6" stroke="#000" stroke-width="1.1"/>
<text x="0" y="0" font-size="9.0" text-anchor="end" transform="translate(363.5 342.55) scale(0.9 1)">1.2</text>
<line x1="366.6" y1="320.4" x2="370.1" y2="320.4" stroke="#000" stroke-width="1.1"/>
<text x="0" y="0" font-size="9.0" text-anchor="end" transform="translate(363.5 323.35) scale(0.9 1)">1.4</text>
<line x1="366.6" y1="301.2" x2="370.1" y2="301.2" stroke="#000" stroke-width="1.1"/>
<text x="0" y="0" font-size="9.0" text-anchor="end" transform="translate(363.5 304.15) scale(0.9 1)">1.6</text>
<line x1="366.6" y1="282.0" x2="370.1" y2="282.0" stroke="#000" stroke-width="1.1"/>
<text x="0" y="0" font-size="9.0" text-anchor="end" transform="translate(363.5 284.95) scale(0.9 1)">1.8</text>
<line x1="369.5" y1="454.8" x2="509" y2="454.8" stroke="#000" stroke-width="1.15"/>
<line x1="370.2" y1="454.8" x2="370.2" y2="458.1" stroke="#000" stroke-width="1.1"/>
<line x1="389.7" y1="454.8" x2="389.7" y2="458.1" stroke="#000" stroke-width="1.1"/>
<line x1="409.2" y1="454.8" x2="409.2" y2="458.1" stroke="#000" stroke-width="1.1"/>
<line x1="428.7" y1="454.8" x2="428.7" y2="458.1" stroke="#000" stroke-width="1.1"/>
<line x1="448.2" y1="454.8" x2="448.2" y2="458.1" stroke="#000" stroke-width="1.1"/>
<line x1="467.7" y1="454.8" x2="467.7" y2="458.1" stroke="#000" stroke-width="1.1"/>
<line x1="487.2" y1="454.8" x2="487.2" y2="458.1" stroke="#000" stroke-width="1.1"/>
<line x1="506.7" y1="454.8" x2="506.7" y2="458.1" stroke="#000" stroke-width="1.1"/>
<text x="0" y="0" font-size="9.0" text-anchor="middle" transform="translate(380.0 468.6) scale(0.9 1)">6</text>
<text x="0" y="0" font-size="9.0" text-anchor="middle" transform="translate(399.45 468.6) scale(0.9 1)">8</text>
<text x="0" y="0" font-size="9.0" text-anchor="middle" transform="translate(418.9 468.6) scale(0.9 1)">10</text>
<text x="0" y="0" font-size="9.0" text-anchor="middle" transform="translate(438.35 468.6) scale(0.9 1)">13</text>
<text x="0" y="0" font-size="9.0" text-anchor="middle" transform="translate(457.8 468.6) scale(0.9 1)">15</text>
<text x="0" y="0" font-size="9.0" text-anchor="middle" transform="translate(477.25 468.6) scale(0.9 1)">17</text>
<text x="0" y="0" font-size="9.0" text-anchor="middle" transform="translate(496.7 468.6) scale(0.9 1)">20</text>
<text x="376.5" y="482.2" font-size="10.4" text-anchor="start" textLength="125.3" lengthAdjust="spacingAndGlyphs">Timepoint of measurement/ [d]</text>
<text x="347.1" y="408.0" font-size="10" text-anchor="start" transform="rotate(-90 347.1 408.0)" textLength="76.5" lengthAdjust="spacingAndGlyphs">Tumor volume/[cm</text>
<text x="343.4" y="331.1" font-size="7.2" text-anchor="start" transform="rotate(-90 343.4 331.1)" textLength="3.3" lengthAdjust="spacingAndGlyphs">3</text>
<text x="347.1" y="327.1" font-size="10" text-anchor="start" transform="rotate(-90 347.1 327.1)" textLength="2.4" lengthAdjust="spacingAndGlyphs">]</text>
<polyline points="380.0,441.5 399.45,433.8 418.9,431 438.35,420.4 457.8,408 477.25,386.3 496.7,353.7" fill="none" stroke="#000" stroke-width="1.6" stroke-linejoin="miter"/>
<polyline points="380.0,437.3 399.45,432.3 418.9,423.8 438.35,409.8 457.8,391.5 477.25,368 496.7,313.3" fill="none" stroke="#000" stroke-width="1.6" stroke-linejoin="miter" stroke-dasharray="7 3.5"/>
<line x1="380.0" y1="437.3" x2="380.0" y2="436.3" stroke="#000" stroke-width="1.2"/>
<line x1="376.7" y1="436.3" x2="383.3" y2="436.3" stroke="#000" stroke-width="1.2"/>
<line x1="380.0" y1="441.5" x2="380.0" y2="440.6" stroke="#000" stroke-width="1.2"/>
<line x1="376.7" y1="440.6" x2="383.3" y2="440.6" stroke="#000" stroke-width="1.2"/>
<line x1="399.45" y1="432.3" x2="399.45" y2="431" stroke="#000" stroke-width="1.2"/>
<line x1="396.15" y1="431" x2="402.75" y2="431" stroke="#000" stroke-width="1.2"/>
<line x1="399.45" y1="433.8" x2="399.45" y2="431.6" stroke="#000" stroke-width="1.2"/>
<line x1="396.15" y1="431.6" x2="402.75" y2="431.6" stroke="#000" stroke-width="1.2"/>
<line x1="418.9" y1="423.8" x2="418.9" y2="422.3" stroke="#000" stroke-width="1.2"/>
<line x1="415.59999999999997" y1="422.3" x2="422.2" y2="422.3" stroke="#000" stroke-width="1.2"/>
<line x1="418.9" y1="431" x2="418.9" y2="429" stroke="#000" stroke-width="1.2"/>
<line x1="415.59999999999997" y1="429" x2="422.2" y2="429" stroke="#000" stroke-width="1.2"/>
<line x1="438.35" y1="409.8" x2="438.35" y2="407" stroke="#000" stroke-width="1.2"/>
<line x1="435.05" y1="407" x2="441.65000000000003" y2="407" stroke="#000" stroke-width="1.2"/>
<line x1="438.35" y1="420.4" x2="438.35" y2="418" stroke="#000" stroke-width="1.2"/>
<line x1="435.05" y1="418" x2="441.65000000000003" y2="418" stroke="#000" stroke-width="1.2"/>
<text x="438.35" y="404.2" font-size="7" text-anchor="middle">*</text>
<line x1="457.8" y1="391.5" x2="457.8" y2="388.7" stroke="#000" stroke-width="1.2"/>
<line x1="454.5" y1="388.7" x2="461.1" y2="388.7" stroke="#000" stroke-width="1.2"/>
<line x1="457.8" y1="408" x2="457.8" y2="404" stroke="#000" stroke-width="1.2"/>
<line x1="454.5" y1="404" x2="461.1" y2="404" stroke="#000" stroke-width="1.2"/>
<text x="457.8" y="387.4" font-size="7" text-anchor="middle">*</text>
<line x1="477.25" y1="368" x2="477.25" y2="362.3" stroke="#000" stroke-width="1.2"/>
<line x1="473.95" y1="362.3" x2="480.55" y2="362.3" stroke="#000" stroke-width="1.2"/>
<line x1="477.25" y1="386.3" x2="477.25" y2="381" stroke="#000" stroke-width="1.2"/>
<line x1="473.95" y1="381" x2="480.55" y2="381" stroke="#000" stroke-width="1.2"/>
<text x="477.25" y="360.2" font-size="7" text-anchor="middle">*</text>
<line x1="496.7" y1="313.3" x2="496.7" y2="302.7" stroke="#000" stroke-width="1.2"/>
<line x1="493.4" y1="302.7" x2="500.0" y2="302.7" stroke="#000" stroke-width="1.2"/>
<line x1="496.7" y1="353.7" x2="496.7" y2="345" stroke="#000" stroke-width="1.2"/>
<line x1="493.4" y1="345" x2="500.0" y2="345" stroke="#000" stroke-width="1.2"/>
<text x="496.7" y="301.2" font-size="7" text-anchor="middle">*</text>
<polyline points="377.5,289.5 406.3,289.5" fill="none" stroke="#000" stroke-width="1.6" stroke-linejoin="miter" stroke-dasharray="7.4 3.3"/>
<polyline points="377.5,301.5 406.3,301.5" fill="none" stroke="#000" stroke-width="1.6" stroke-linejoin="miter"/>
<text x="409.5" y="292.1" font-size="8.0" text-anchor="start">vehicle</text>
<text x="409.5" y="304.1" font-size="8.0" text-anchor="start">DMF</text>
<line x1="46.8" y1="505.40999999999997" x2="46.8" y2="682.2" stroke="#000" stroke-width="1.15"/>
<line x1="43.3" y1="681.6" x2="46.8" y2="681.6" stroke="#000" stroke-width="1.1"/>
<text x="0" y="0" font-size="9.0" text-anchor="end" transform="translate(40.199999999999996 684.55) scale(0.9 1)">0.0</text>
<line x1="43.3" y1="662.39" x2="46.8" y2="662.39" stroke="#000" stroke-width="1.1"/>
<text x="0" y="0" font-size="9.0" text-anchor="end" transform="translate(40.199999999999996 665.34) scale(0.9 1)">0.2</text>
<line x1="43.3" y1="643.18" x2="46.8" y2="643.18" stroke="#000" stroke-width="1.1"/>
<text x="0" y="0" font-size="9.0" text-anchor="end" transform="translate(40.199999999999996 646.13) scale(0.9 1)">0.4</text>
<line x1="43.3" y1="623.97" x2="46.8" y2="623.97" stroke="#000" stroke-width="1.1"/>
<text x="0" y="0" font-size="9.0" text-anchor="end" transform="translate(40.199999999999996 626.92) scale(0.9 1)">0.6</text>
<line x1="43.3" y1="604.76" x2="46.8" y2="604.76" stroke="#000" stroke-width="1.1"/>
<text x="0" y="0" font-size="9.0" text-anchor="end" transform="translate(40.199999999999996 607.71) scale(0.9 1)">0.8</text>
<line x1="43.3" y1="585.55" x2="46.8" y2="585.55" stroke="#000" stroke-width="1.1"/>
<text x="0" y="0" font-size="9.0" text-anchor="end" transform="translate(40.199999999999996 588.5) scale(0.9 1)">1.0</text>
<line x1="43.3" y1="566.34" x2="46.8" y2="566.34" stroke="#000" stroke-width="1.1"/>
<text x="0" y="0" font-size="9.0" text-anchor="end" transform="translate(40.199999999999996 569.29) scale(0.9 1)">1.2</text>
<line x1="43.3" y1="547.13" x2="46.8" y2="547.13" stroke="#000" stroke-width="1.1"/>
<text x="0" y="0" font-size="9.0" text-anchor="end" transform="translate(40.199999999999996 550.08) scale(0.9 1)">1.4</text>
<line x1="43.3" y1="527.92" x2="46.8" y2="527.92" stroke="#000" stroke-width="1.1"/>
<text x="0" y="0" font-size="9.0" text-anchor="end" transform="translate(40.199999999999996 530.87) scale(0.9 1)">1.6</text>
<line x1="43.3" y1="508.71" x2="46.8" y2="508.71" stroke="#000" stroke-width="1.1"/>
<text x="0" y="0" font-size="9.0" text-anchor="end" transform="translate(40.199999999999996 511.66) scale(0.9 1)">1.8</text>
<line x1="46.199999999999996" y1="681.6" x2="135.5" y2="681.6" stroke="#000" stroke-width="1.15"/>
<line x1="46.8" y1="681.6" x2="46.8" y2="684.9" stroke="#000" stroke-width="1.1"/>
<line x1="89.8" y1="681.6" x2="89.8" y2="684.9" stroke="#000" stroke-width="1.1"/>
<line x1="133.2" y1="681.6" x2="133.2" y2="684.9" stroke="#000" stroke-width="1.1"/>
<text x="0" y="0" font-size="9.0" text-anchor="middle" transform="translate(69.2 695.5) scale(0.9 1)">PBS</text>
<text x="0" y="0" font-size="9.0" text-anchor="middle" transform="translate(110.8 695.5) scale(0.9 1)">DMF</text>
<rect x="60.8" y="540" width="16.2" height="141.60000000000002" fill="#000"/>
<rect x="103.3" y="580" width="16.2" height="101.60000000000002" fill="#000"/>
<line x1="69.1" y1="541" x2="69.1" y2="531.5" stroke="#000" stroke-width="1.2"/>
<line x1="65.69999999999999" y1="531.5" x2="72.5" y2="531.5" stroke="#000" stroke-width="1.2"/>
<line x1="111.4" y1="581" x2="111.4" y2="570.8" stroke="#000" stroke-width="1.2"/>
<line x1="108.0" y1="570.8" x2="114.80000000000001" y2="570.8" stroke="#000" stroke-width="1.2"/>
<text x="111.3" y="569" font-size="7" text-anchor="middle">*</text>
<text x="24" y="635.5" font-size="10" text-anchor="start" transform="rotate(-90 24 635.5)" textLength="76.5" lengthAdjust="spacingAndGlyphs">Tumor volume/[cm</text>
<text x="20.3" y="558.6" font-size="7.2" text-anchor="start" transform="rotate(-90 20.3 558.6)" textLength="3.3" lengthAdjust="spacingAndGlyphs">3</text>
<text x="24" y="554.6" font-size="10" text-anchor="start" transform="rotate(-90 24 554.6)" textLength="2.4" lengthAdjust="spacingAndGlyphs">]</text>
</svg></body></html>
